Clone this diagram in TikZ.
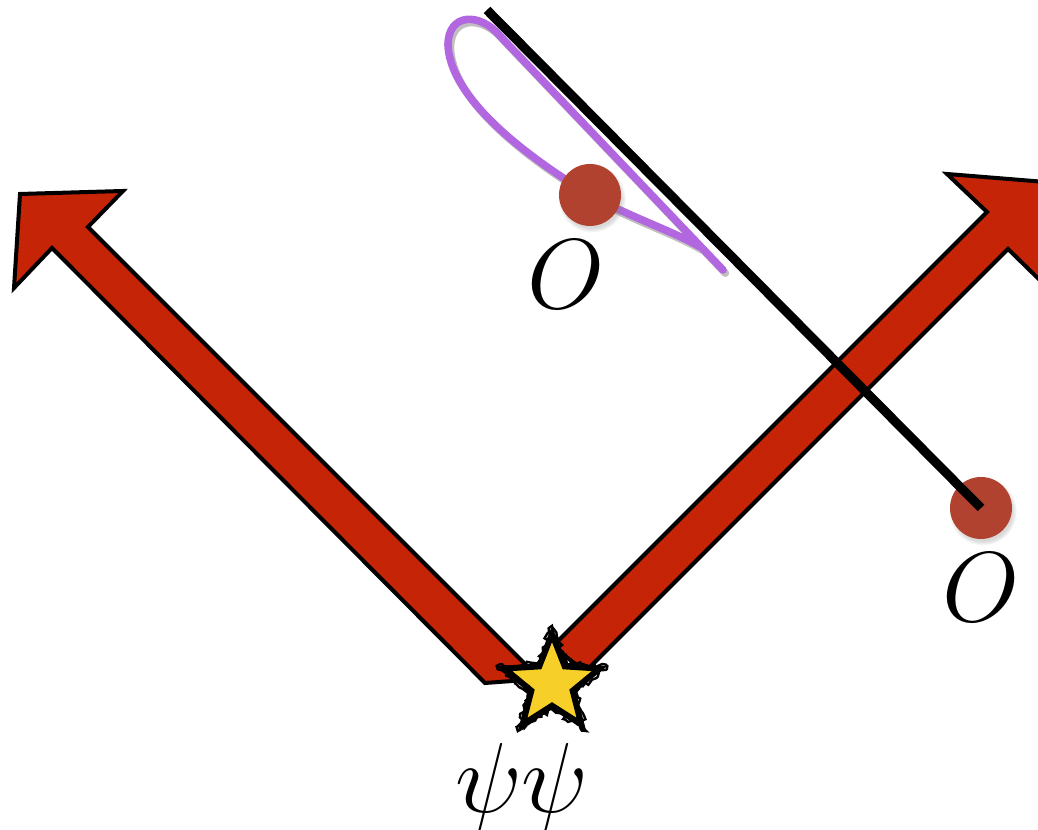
\documentclass[tikz,border=0pt]{standalone}
\usetikzlibrary{shapes.geometric,shadows,decorations.pathmorphing}
\definecolor{arrowred}{RGB}{197,36,6}
\definecolor{dotred}{RGB}{178,66,48}
\definecolor{loopviolet}{RGB}{178,102,224}
\definecolor{staryellow}{RGB}{246,207,40}
\begin{document}
\begin{tikzpicture}[x=0.25pt,y=-0.25pt,
  bigarrow/.style={fill=arrowred,draw=black,line width=1pt,line join=miter},
  odot/.style={circle,fill=dotred,minimum size=15.5pt,inner sep=0pt,
    circular drop shadow={shadow xshift=0.4pt,shadow yshift=-0.8pt,opacity=0.3}},
  lbl/.style={font=\fontsize{24.88}{30}\selectfont,inner sep=0pt},
  wline/.style={line width=2.3pt,black},
  loopline/.style={line width=1.9pt,loopviolet,line cap=round,line join=round},
  loopshadow/.style={line width=1.9pt,black,opacity=0.25,line cap=round,line join=round},
  spark/.style={star,star points=5,star point ratio=2.3,minimum size=25pt,inner sep=0pt,
    fill=staryellow,draw=black,line width=1.5pt,line join=miter},
  roughedge/.style={draw=black,line width=0.6pt,decorate,
    decoration={random steps,segment length=0.8pt,amplitude=0.6pt}}]
\useasboundingbox (0,0) rectangle (1038,830);
\clip (0,0) rectangle (1038,830);
% left arrow
\draw[bigarrow] (485,683) -- (52,248) -- (14,288) -- (20,194) -- (123,191) -- (88,227) -- (540,679) -- cycle;
% right arrow
\draw[bigarrow] (553,646) -- (987,212) -- (947,174) -- (1058,183) -- (1052,292) -- (1008,249) -- (585,672) -- cycle;
% star
\node[spark] (src) at (552,684) {};
\draw[roughedge] (src.outer point 1) -- (src.inner point 1) -- (src.outer point 2) -- (src.inner point 2) -- (src.outer point 3) -- (src.inner point 3) -- (src.outer point 4) -- (src.inner point 4) -- (src.outer point 5) -- (src.inner point 5) -- cycle;
\node[lbl] (psi) at (522,788) {$\psi\psi$};
% loop
\begin{scope}[xshift=0.6pt,yshift=-0.8pt]
\draw[loopshadow] (723,270) -- (500,36) .. controls (480,12) and (448,13) .. (448,45) .. controls (450,92) and (508,145) .. (590,195) .. controls (630,217) and (675,232) .. (700,247);
\end{scope}
\draw[loopline] (723,270) -- (500,36) .. controls (480,12) and (448,13) .. (448,45) .. controls (450,92) and (508,145) .. (590,195) .. controls (630,217) and (675,232) .. (700,247);
% dots
\node[odot] (o1) at (590,195) {};
\node[odot] (o2) at (981,508) {};
\node[lbl] (l1) at (566,275) {$O$};
\node[lbl] (l2) at (981,588) {$O$};
% black line
\coordinate (ltop) at (487,10);
\draw[wline] (ltop) -- (o2.center);
\end{tikzpicture}
\end{document}
